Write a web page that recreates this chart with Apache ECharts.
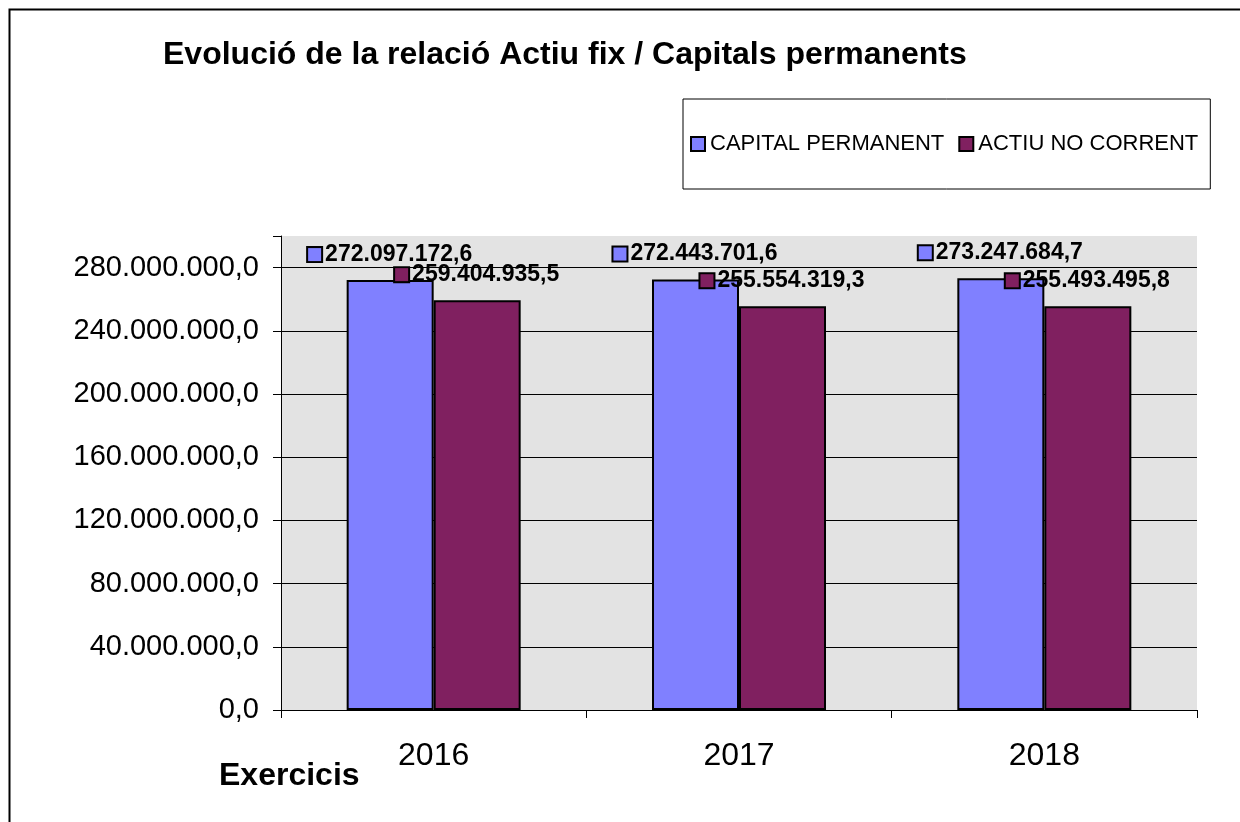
<!DOCTYPE html>
<html>
<head>
<meta charset="utf-8">
<title>Evolució de la relació Actiu fix / Capitals permanents</title>
<script src="https://cdn.jsdelivr.net/npm/echarts@6/dist/echarts.min.js"></script>
<style type="text/css">
	html, body{
		margin: 0;
		padding: 0;
		background: #fff;
	}
	#main{
		width: 1240px;
		height: 822px;
	}
</style>
</head>
<body>
<div id="main"></div>
<script type="text/javascript">
// dades del gràfic
var years = ['2016', '2017', '2018'];
var capitalPermanent = [272097172.6, 272443701.6, 273247684.7];
var actiuNoCorrent = [259404935.5, 255554319.3, 255493495.8];
var yTicks = [0, 40000000, 80000000, 120000000, 160000000, 200000000, 240000000, 280000000];

var FONT = '"Liberation Sans", Arial, sans-serif';
var blue = '#8080ff',
	red = '#802060';

// format català: 272.097.172,6
function fmt(v){
	var parts = Number(v).toFixed(1).split('.');
	return parts[0].replace(/\B(?=(\d{3})+(?!\d))/g, '.') + ',' + parts[1];
}

function barLabel(color){
	return {
		show: true,
		position: 'top',
		distance: 14,
		color: '#000',
		formatter: function(p){
			return '{m|}{v|' + fmt(p.value) + '}';
		},
		rich: {
			m: {
				width: 13,
				height: 13,
				backgroundColor: color,
				borderColor: '#000',
				borderWidth: 2
			},
			v: {
				fontFamily: FONT,
				fontSize: 23,
				fontWeight: 'bold',
				lineHeight: 23,
				color: '#000',
				padding: [0, 0, 0, 4]
			}
		}
	};
}

var myChart = echarts.init(document.getElementById('main'), null, {renderer: 'canvas'});

var option = {
	backgroundColor: '#fff',
	animation: false,
	textStyle: {fontFamily: FONT},
	title: [{
		text: 'Evolució de la relació Actiu fix / Capitals permanents',
		left: 163,
		top: 39,
		padding: 0,
		textStyle: {fontFamily: FONT, fontSize: 32, fontWeight: 'bold', color: '#000'}
	}, {
		text: 'Exercicis',
		left: 219,
		top: 760,
		padding: 0,
		textStyle: {fontFamily: FONT, fontSize: 32, fontWeight: 'bold', color: '#000'}
	}],
	legend: {
		left: 683,
		top: 99,
		padding: [34, 12, 34, 7],
		itemGap: 14,
		itemWidth: 14,
		itemHeight: 14,
		icon: 'rect',
		borderColor: '#000',
		borderWidth: 1,
		textStyle: {fontFamily: FONT, fontSize: 22, color: '#000', padding: [0, 0, 0, 0]},
		data: ['CAPITAL PERMANENT', 'ACTIU NO CORRENT']
	},
	grid: {
		left: 281,
		right: 43,
		top: 236,
		bottom: 112,
		show: true,
		backgroundColor: '#e3e3e3',
		borderWidth: 0
	},
	xAxis: {
		type: 'category',
		data: years,
		axisLine: {lineStyle: {color: '#000', width: 1}},
		axisTick: {show: true, length: 8, lineStyle: {color: '#000'}},
		axisLabel: {fontFamily: FONT, fontSize: 32, color: '#000', margin: 30},
		splitLine: {show: false}
	},
	yAxis: {
		type: 'value',
		min: 0,
		max: 300000000,
		interval: 40000000,
		axisLine: {show: true, lineStyle: {color: '#000', width: 1}},
		axisTick: {show: true, length: 8, lineStyle: {color: '#000'}},
		axisLabel: {
			fontFamily: FONT,
			fontSize: 29,
			color: '#000',
			margin: 22,
			customValues: yTicks,
			formatter: function(v){ return fmt(v); }
		},
		splitLine: {show: true, showMaxLine: false, lineStyle: {color: '#000', width: 1}}
	},
	series: [{
		name: 'CAPITAL PERMANENT',
		type: 'bar',
		data: capitalPermanent,
		barWidth: 87,
		barGap: '0%',
		itemStyle: {color: blue, borderColor: '#000', borderWidth: 2},
		label: barLabel(blue)
	}, {
		name: 'ACTIU NO CORRENT',
		type: 'bar',
		data: actiuNoCorrent,
		barWidth: 87,
		barGap: '0%',
		itemStyle: {color: red, borderColor: '#000', borderWidth: 2},
		label: barLabel(red)
	}],
	graphic: [{
		// marc exterior del gràfic
		type: 'rect',
		left: 7,
		top: 7,
		shape: {width: 1300, height: 900},
		style: {fill: 'none', stroke: '#000', lineWidth: 2},
		silent: true,
		z: -1
	}]
};

myChart.setOption(option);
</script>
</body>
</html>
